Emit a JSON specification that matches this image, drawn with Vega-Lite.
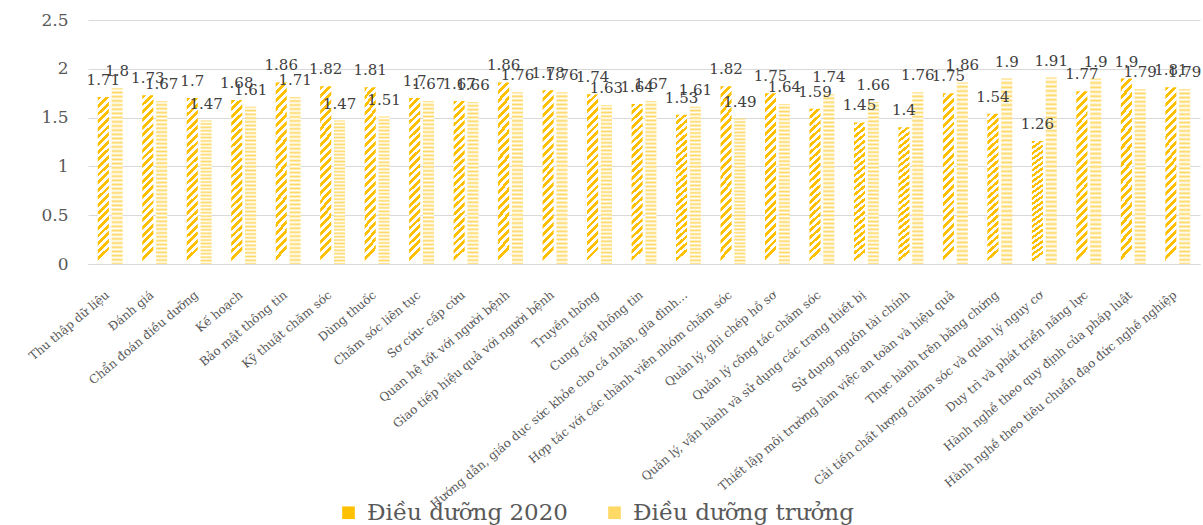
{
  "$schema": "https://vega.github.io/schema/vega-lite/v6.json",
  "width": 1112,
  "height": 244,
  "autosize": {"type": "none"},
  "padding": {"left": 88, "top": 20, "right": 3, "bottom": 261},
  "background": "white",
  "config": {"view": {"stroke": null}, "font": "DejaVu Serif"},
  "data": {"values": [
    {"skill": "Thu thập dữ liệu", "series": "Điều dưỡng 2020", "value": 1.71},
    {"skill": "Thu thập dữ liệu", "series": "Điều dưỡng trưởng", "value": 1.8},
    {"skill": "Đánh giá", "series": "Điều dưỡng 2020", "value": 1.73},
    {"skill": "Đánh giá", "series": "Điều dưỡng trưởng", "value": 1.67},
    {"skill": "Chẩn đoán điều dưỡng", "series": "Điều dưỡng 2020", "value": 1.7},
    {"skill": "Chẩn đoán điều dưỡng", "series": "Điều dưỡng trưởng", "value": 1.47},
    {"skill": "Kế hoạch", "series": "Điều dưỡng 2020", "value": 1.68},
    {"skill": "Kế hoạch", "series": "Điều dưỡng trưởng", "value": 1.61},
    {"skill": "Bảo mật thông tin", "series": "Điều dưỡng 2020", "value": 1.86},
    {"skill": "Bảo mật thông tin", "series": "Điều dưỡng trưởng", "value": 1.71},
    {"skill": "Kỹ thuật chăm sóc", "series": "Điều dưỡng 2020", "value": 1.82},
    {"skill": "Kỹ thuật chăm sóc", "series": "Điều dưỡng trưởng", "value": 1.47},
    {"skill": "Dùng thuốc", "series": "Điều dưỡng 2020", "value": 1.81},
    {"skill": "Dùng thuốc", "series": "Điều dưỡng trưởng", "value": 1.51},
    {"skill": "Chăm sóc liên tục", "series": "Điều dưỡng 2020", "value": 1.7},
    {"skill": "Chăm sóc liên tục", "series": "Điều dưỡng trưởng", "value": 1.67},
    {"skill": "Sơ cứu- cấp cứu", "series": "Điều dưỡng 2020", "value": 1.67},
    {"skill": "Sơ cứu- cấp cứu", "series": "Điều dưỡng trưởng", "value": 1.66},
    {"skill": "Quan hệ tốt với người bệnh", "series": "Điều dưỡng 2020", "value": 1.86},
    {"skill": "Quan hệ tốt với người bệnh", "series": "Điều dưỡng trưởng", "value": 1.76},
    {"skill": "Giao tiếp hiệu quả với người bệnh", "series": "Điều dưỡng 2020", "value": 1.78},
    {"skill": "Giao tiếp hiệu quả với người bệnh", "series": "Điều dưỡng trưởng", "value": 1.76},
    {"skill": "Truyền thông", "series": "Điều dưỡng 2020", "value": 1.74},
    {"skill": "Truyền thông", "series": "Điều dưỡng trưởng", "value": 1.63},
    {"skill": "Cung cấp thông tin", "series": "Điều dưỡng 2020", "value": 1.64},
    {"skill": "Cung cấp thông tin", "series": "Điều dưỡng trưởng", "value": 1.67},
    {"skill": "Hướng dẫn, giáo dục sức khỏe cho cá nhân, gia đình…", "series": "Điều dưỡng 2020", "value": 1.53},
    {"skill": "Hướng dẫn, giáo dục sức khỏe cho cá nhân, gia đình…", "series": "Điều dưỡng trưởng", "value": 1.61},
    {"skill": "Hợp tác với các thành viên nhóm chăm sóc", "series": "Điều dưỡng 2020", "value": 1.82},
    {"skill": "Hợp tác với các thành viên nhóm chăm sóc", "series": "Điều dưỡng trưởng", "value": 1.49},
    {"skill": "Quản lý, ghi chép hồ sơ", "series": "Điều dưỡng 2020", "value": 1.75},
    {"skill": "Quản lý, ghi chép hồ sơ", "series": "Điều dưỡng trưởng", "value": 1.64},
    {"skill": "Quản lý công tác chăm sóc", "series": "Điều dưỡng 2020", "value": 1.59},
    {"skill": "Quản lý công tác chăm sóc", "series": "Điều dưỡng trưởng", "value": 1.74},
    {"skill": "Quản lý, vận hành và sử dụng các trang thiết bị", "series": "Điều dưỡng 2020", "value": 1.45},
    {"skill": "Quản lý, vận hành và sử dụng các trang thiết bị", "series": "Điều dưỡng trưởng", "value": 1.66},
    {"skill": "Sử dụng nguồn tài chính", "series": "Điều dưỡng 2020", "value": 1.4},
    {"skill": "Sử dụng nguồn tài chính", "series": "Điều dưỡng trưởng", "value": 1.76},
    {"skill": "Thiết lập môi trường làm việc an toàn và hiệu quả", "series": "Điều dưỡng 2020", "value": 1.75},
    {"skill": "Thiết lập môi trường làm việc an toàn và hiệu quả", "series": "Điều dưỡng trưởng", "value": 1.86},
    {"skill": "Thực hành trên bằng chứng", "series": "Điều dưỡng 2020", "value": 1.54},
    {"skill": "Thực hành trên bằng chứng", "series": "Điều dưỡng trưởng", "value": 1.9},
    {"skill": "Cải tiến chất lượng chăm sóc và quản lý nguy cơ", "series": "Điều dưỡng 2020", "value": 1.26},
    {"skill": "Cải tiến chất lượng chăm sóc và quản lý nguy cơ", "series": "Điều dưỡng trưởng", "value": 1.91},
    {"skill": "Duy trì và phát triển năng lực", "series": "Điều dưỡng 2020", "value": 1.77},
    {"skill": "Duy trì và phát triển năng lực", "series": "Điều dưỡng trưởng", "value": 1.9},
    {"skill": "Hành nghề theo quy định của pháp luật", "series": "Điều dưỡng 2020", "value": 1.9},
    {"skill": "Hành nghề theo quy định của pháp luật", "series": "Điều dưỡng trưởng", "value": 1.79},
    {"skill": "Hành nghề theo tiêu chuẩn đạo đức nghề nghiệp", "series": "Điều dưỡng 2020", "value": 1.81},
    {"skill": "Hành nghề theo tiêu chuẩn đạo đức nghề nghiệp", "series": "Điều dưỡng trưởng", "value": 1.79}
  ]},
  "encoding": {
    "x": {
      "field": "skill", "type": "nominal", "sort": null,
      "scale": {"paddingInner": 0.44, "paddingOuter": 0.22},
      "axis": {"title": null, "labelAngle": -40, "labelFontSize": 12, "labelColor": "#595959", "labelFont": "DejaVu Serif", "ticks": false, "domainColor": "#d9d9d9", "labelPadding": 25, "labelOffset": -6, "labelLimit": 0}
    },
    "xOffset": {"field": "series", "type": "nominal", "sort": null, "scale": {"paddingInner": 0.2}},
    "y": {
      "field": "value", "type": "quantitative",
      "scale": {"domain": [0, 2.5]},
      "axis": {"title": null, "values": [0, 0.5, 1, 1.5, 2, 2.5], "labelExpr": "'' + datum.value", "domain": false, "ticks": false, "labelPadding": 20, "labelFontSize": 17, "labelColor": "#595959", "labelFont": "DejaVu Serif", "gridColor": "#d9d9d9"}
    }
  },
  "layer": [
    {
      "mark": {"type": "bar"},
      "encoding": {
        "fill": {
          "condition": {
            "test": "datum.series === 'Điều dưỡng 2020'",
            "value": {"gradient": "linear", "x1": 0, "y1": 0, "x2": 0.065, "y2": 1, "stops": [
              {"offset": 0, "color": "#FFC000"}, {"offset": 0.02273, "color": "#FFC000"}, {"offset": 0.02273, "color": "#FFFFFF"}, {"offset": 0.04545, "color": "#FFFFFF"},
              {"offset": 0.04545, "color": "#FFC000"}, {"offset": 0.06818, "color": "#FFC000"}, {"offset": 0.06818, "color": "#FFFFFF"}, {"offset": 0.09091, "color": "#FFFFFF"},
              {"offset": 0.09091, "color": "#FFC000"}, {"offset": 0.11364, "color": "#FFC000"}, {"offset": 0.11364, "color": "#FFFFFF"}, {"offset": 0.13636, "color": "#FFFFFF"},
              {"offset": 0.13636, "color": "#FFC000"}, {"offset": 0.15909, "color": "#FFC000"}, {"offset": 0.15909, "color": "#FFFFFF"}, {"offset": 0.18182, "color": "#FFFFFF"},
              {"offset": 0.18182, "color": "#FFC000"}, {"offset": 0.20455, "color": "#FFC000"}, {"offset": 0.20455, "color": "#FFFFFF"}, {"offset": 0.22727, "color": "#FFFFFF"},
              {"offset": 0.22727, "color": "#FFC000"}, {"offset": 0.25, "color": "#FFC000"}, {"offset": 0.25, "color": "#FFFFFF"}, {"offset": 0.27273, "color": "#FFFFFF"},
              {"offset": 0.27273, "color": "#FFC000"}, {"offset": 0.29545, "color": "#FFC000"}, {"offset": 0.29545, "color": "#FFFFFF"}, {"offset": 0.31818, "color": "#FFFFFF"},
              {"offset": 0.31818, "color": "#FFC000"}, {"offset": 0.34091, "color": "#FFC000"}, {"offset": 0.34091, "color": "#FFFFFF"}, {"offset": 0.36364, "color": "#FFFFFF"},
              {"offset": 0.36364, "color": "#FFC000"}, {"offset": 0.38636, "color": "#FFC000"}, {"offset": 0.38636, "color": "#FFFFFF"}, {"offset": 0.40909, "color": "#FFFFFF"},
              {"offset": 0.40909, "color": "#FFC000"}, {"offset": 0.43182, "color": "#FFC000"}, {"offset": 0.43182, "color": "#FFFFFF"}, {"offset": 0.45455, "color": "#FFFFFF"},
              {"offset": 0.45455, "color": "#FFC000"}, {"offset": 0.47727, "color": "#FFC000"}, {"offset": 0.47727, "color": "#FFFFFF"}, {"offset": 0.5, "color": "#FFFFFF"},
              {"offset": 0.5, "color": "#FFC000"}, {"offset": 0.52273, "color": "#FFC000"}, {"offset": 0.52273, "color": "#FFFFFF"}, {"offset": 0.54545, "color": "#FFFFFF"},
              {"offset": 0.54545, "color": "#FFC000"}, {"offset": 0.56818, "color": "#FFC000"}, {"offset": 0.56818, "color": "#FFFFFF"}, {"offset": 0.59091, "color": "#FFFFFF"},
              {"offset": 0.59091, "color": "#FFC000"}, {"offset": 0.61364, "color": "#FFC000"}, {"offset": 0.61364, "color": "#FFFFFF"}, {"offset": 0.63636, "color": "#FFFFFF"},
              {"offset": 0.63636, "color": "#FFC000"}, {"offset": 0.65909, "color": "#FFC000"}, {"offset": 0.65909, "color": "#FFFFFF"}, {"offset": 0.68182, "color": "#FFFFFF"},
              {"offset": 0.68182, "color": "#FFC000"}, {"offset": 0.70455, "color": "#FFC000"}, {"offset": 0.70455, "color": "#FFFFFF"}, {"offset": 0.72727, "color": "#FFFFFF"},
              {"offset": 0.72727, "color": "#FFC000"}, {"offset": 0.75, "color": "#FFC000"}, {"offset": 0.75, "color": "#FFFFFF"}, {"offset": 0.77273, "color": "#FFFFFF"},
              {"offset": 0.77273, "color": "#FFC000"}, {"offset": 0.79545, "color": "#FFC000"}, {"offset": 0.79545, "color": "#FFFFFF"}, {"offset": 0.81818, "color": "#FFFFFF"},
              {"offset": 0.81818, "color": "#FFC000"}, {"offset": 0.84091, "color": "#FFC000"}, {"offset": 0.84091, "color": "#FFFFFF"}, {"offset": 0.86364, "color": "#FFFFFF"},
              {"offset": 0.86364, "color": "#FFC000"}, {"offset": 0.88636, "color": "#FFC000"}, {"offset": 0.88636, "color": "#FFFFFF"}, {"offset": 0.90909, "color": "#FFFFFF"},
              {"offset": 0.90909, "color": "#FFC000"}, {"offset": 0.93182, "color": "#FFC000"}, {"offset": 0.93182, "color": "#FFFFFF"}, {"offset": 0.95455, "color": "#FFFFFF"},
              {"offset": 0.95455, "color": "#FFC000"}, {"offset": 0.97727, "color": "#FFC000"}, {"offset": 0.97727, "color": "#FFFFFF"}, {"offset": 1, "color": "#FFFFFF"}
            ]}
          },
          "value": {"gradient": "linear", "x1": 0, "y1": 0, "x2": 0, "y2": 1, "stops": [
            {"offset": 0, "color": "#FFD966"}, {"offset": 0.0119, "color": "#FFFFFF"}, {"offset": 0.02381, "color": "#FFD966"}, {"offset": 0.03571, "color": "#FFFFFF"},
            {"offset": 0.04762, "color": "#FFD966"}, {"offset": 0.05952, "color": "#FFFFFF"}, {"offset": 0.07143, "color": "#FFD966"}, {"offset": 0.08333, "color": "#FFFFFF"},
            {"offset": 0.09524, "color": "#FFD966"}, {"offset": 0.10714, "color": "#FFFFFF"}, {"offset": 0.11905, "color": "#FFD966"}, {"offset": 0.13095, "color": "#FFFFFF"},
            {"offset": 0.14286, "color": "#FFD966"}, {"offset": 0.15476, "color": "#FFFFFF"}, {"offset": 0.16667, "color": "#FFD966"}, {"offset": 0.17857, "color": "#FFFFFF"},
            {"offset": 0.19048, "color": "#FFD966"}, {"offset": 0.20238, "color": "#FFFFFF"}, {"offset": 0.21429, "color": "#FFD966"}, {"offset": 0.22619, "color": "#FFFFFF"},
            {"offset": 0.2381, "color": "#FFD966"}, {"offset": 0.25, "color": "#FFFFFF"}, {"offset": 0.2619, "color": "#FFD966"}, {"offset": 0.27381, "color": "#FFFFFF"},
            {"offset": 0.28571, "color": "#FFD966"}, {"offset": 0.29762, "color": "#FFFFFF"}, {"offset": 0.30952, "color": "#FFD966"}, {"offset": 0.32143, "color": "#FFFFFF"},
            {"offset": 0.33333, "color": "#FFD966"}, {"offset": 0.34524, "color": "#FFFFFF"}, {"offset": 0.35714, "color": "#FFD966"}, {"offset": 0.36905, "color": "#FFFFFF"},
            {"offset": 0.38095, "color": "#FFD966"}, {"offset": 0.39286, "color": "#FFFFFF"}, {"offset": 0.40476, "color": "#FFD966"}, {"offset": 0.41667, "color": "#FFFFFF"},
            {"offset": 0.42857, "color": "#FFD966"}, {"offset": 0.44048, "color": "#FFFFFF"}, {"offset": 0.45238, "color": "#FFD966"}, {"offset": 0.46429, "color": "#FFFFFF"},
            {"offset": 0.47619, "color": "#FFD966"}, {"offset": 0.4881, "color": "#FFFFFF"}, {"offset": 0.5, "color": "#FFD966"}, {"offset": 0.5119, "color": "#FFFFFF"},
            {"offset": 0.52381, "color": "#FFD966"}, {"offset": 0.53571, "color": "#FFFFFF"}, {"offset": 0.54762, "color": "#FFD966"}, {"offset": 0.55952, "color": "#FFFFFF"},
            {"offset": 0.57143, "color": "#FFD966"}, {"offset": 0.58333, "color": "#FFFFFF"}, {"offset": 0.59524, "color": "#FFD966"}, {"offset": 0.60714, "color": "#FFFFFF"},
            {"offset": 0.61905, "color": "#FFD966"}, {"offset": 0.63095, "color": "#FFFFFF"}, {"offset": 0.64286, "color": "#FFD966"}, {"offset": 0.65476, "color": "#FFFFFF"},
            {"offset": 0.66667, "color": "#FFD966"}, {"offset": 0.67857, "color": "#FFFFFF"}, {"offset": 0.69048, "color": "#FFD966"}, {"offset": 0.70238, "color": "#FFFFFF"},
            {"offset": 0.71429, "color": "#FFD966"}, {"offset": 0.72619, "color": "#FFFFFF"}, {"offset": 0.7381, "color": "#FFD966"}, {"offset": 0.75, "color": "#FFFFFF"},
            {"offset": 0.7619, "color": "#FFD966"}, {"offset": 0.77381, "color": "#FFFFFF"}, {"offset": 0.78571, "color": "#FFD966"}, {"offset": 0.79762, "color": "#FFFFFF"},
            {"offset": 0.80952, "color": "#FFD966"}, {"offset": 0.82143, "color": "#FFFFFF"}, {"offset": 0.83333, "color": "#FFD966"}, {"offset": 0.84524, "color": "#FFFFFF"},
            {"offset": 0.85714, "color": "#FFD966"}, {"offset": 0.86905, "color": "#FFFFFF"}, {"offset": 0.88095, "color": "#FFD966"}, {"offset": 0.89286, "color": "#FFFFFF"},
            {"offset": 0.90476, "color": "#FFD966"}, {"offset": 0.91667, "color": "#FFFFFF"}, {"offset": 0.92857, "color": "#FFD966"}, {"offset": 0.94048, "color": "#FFFFFF"},
            {"offset": 0.95238, "color": "#FFD966"}, {"offset": 0.96429, "color": "#FFFFFF"}, {"offset": 0.97619, "color": "#FFD966"}, {"offset": 0.9881, "color": "#FFFFFF"},
            {"offset": 1, "color": "#FFD966"}
          ]}
        }
      }
    },
    {
      "mark": {"type": "bar", "opacity": 0},
      "encoding": {
        "color": {
          "field": "series", "type": "nominal", "sort": null,
          "scale": {"range": ["#FFC000", "#FFD966"]},
          "legend": {"orient": "none", "legendX": 249, "legendY": 481, "direction": "horizontal", "title": null, "labelFontSize": 23, "labelColor": "#595959", "labelFont": "DejaVu Serif", "labelLimit": 0, "symbolType": "square", "symbolSize": 160, "symbolOpacity": 1, "labelOffset": 7, "columnPadding": 35, "symbolStrokeWidth": 0}
        }
      }
    },
    {
      "mark": {"type": "text", "baseline": "alphabetic", "dy": -12, "fontSize": 15, "color": "#404040", "font": "DejaVu Serif"},
      "encoding": {"text": {"field": "value", "type": "quantitative", "format": ""}}
    }
  ]
}
